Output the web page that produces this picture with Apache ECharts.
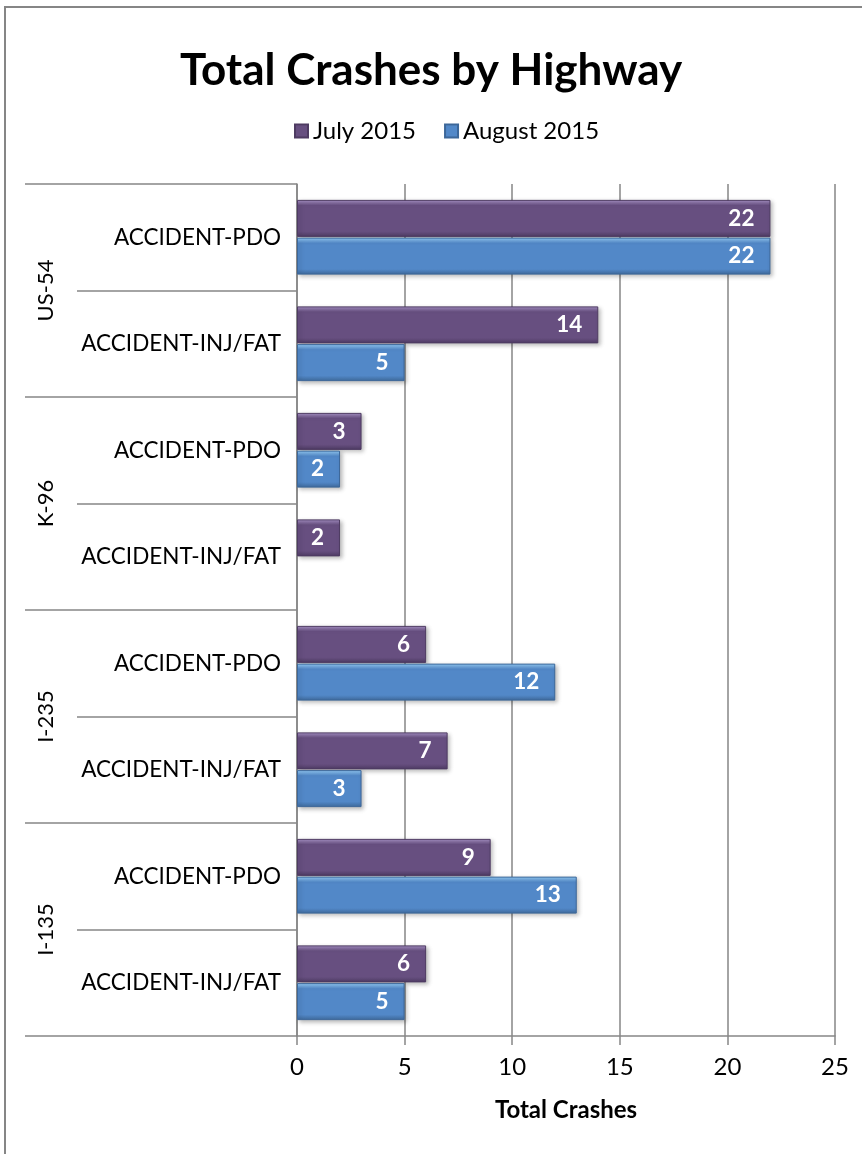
<!DOCTYPE html>
<html>
<head>
<meta charset="utf-8">
<script src="https://cdn.jsdelivr.net/npm/echarts@6/dist/echarts.min.js"></script>
<style>
html,body{margin:0;padding:0;background:#fff;}
#chart{width:862px;height:1154px;}
</style>
</head>
<body>
<div id="chart"></div>
<script>
var categories = ['ACCIDENT-PDO','ACCIDENT-INJ/FAT','ACCIDENT-PDO','ACCIDENT-INJ/FAT','ACCIDENT-PDO','ACCIDENT-INJ/FAT','ACCIDENT-PDO','ACCIDENT-INJ/FAT'];
var highways = ['US-54','K-96','I-235','I-135'];
var july2015 = [22, 14, 3, 2, 6, 7, 9, 6];
var august2015 = [22, 5, 2, null, 12, 3, 13, 5];
var xTicks = [0, 5, 10, 15, 20, 25];

var FONT = 'Lato, "Open Sans", sans-serif';
var chart = echarts.init(document.getElementById('chart'));

function grad(light, main, dark) {
  return new echarts.graphic.LinearGradient(0, 0, 0, 1, [
    {offset: 0, color: light},
    {offset: 0.15, color: main},
    {offset: 0.85, color: main},
    {offset: 1, color: dark}
  ]);
}

var labelCfg = {
  show: true,
  position: 'insideRight',
  distance: 16,
  color: '#fff',
  fontWeight: 'bold',
  fontSize: 22.5,
  fontFamily: FONT,
  formatter: function (p) { return p.value ? p.value : ''; }
};

chart.setOption({
  animation: false,
  backgroundColor: '#fff',
  title: {
    text: 'Total Crashes by Highway',
    left: 'center',
    top: 44,
    textStyle: {fontSize: 44, fontWeight: 'bold', color: '#000', fontFamily: FONT}
  },
  legend: {
    top: 114,
    left: 289,
    itemWidth: 13,
    itemHeight: 13,
    itemGap: 28,
    icon: 'rect',
    textStyle: {fontSize: 24, color: '#000', fontFamily: FONT},
    data: ['July 2015', 'August 2015']
  },
  graphic: [{
    type: 'rect',
    shape: {x: 5, y: 7, width: 1000, height: 1300},
    style: {fill: 'none', stroke: '#868686', lineWidth: 2},
    silent: true,
    z: -1
  }],
  grid: {left: 297, right: 27, top: 184, bottom: 118, containLabel: false},
  xAxis: {
    type: 'value',
    min: xTicks[0],
    max: xTicks[xTicks.length - 1],
    interval: 5,
    name: 'Total Crashes',
    nameLocation: 'middle',
    nameGap: 62,
    nameTextStyle: {fontSize: 24, fontWeight: 'bold', color: '#000', fontFamily: FONT},
    axisLine: {show: true, lineStyle: {color: '#868686', width: 1.5}},
    axisTick: {show: true, length: 9, lineStyle: {color: '#868686', width: 1.5}},
    axisLabel: {fontSize: 24, color: '#000', margin: 19, fontFamily: FONT},
    splitLine: {show: true, lineStyle: {color: '#868686', width: 1.5}}
  },
  yAxis: [{
    type: 'category',
    inverse: true,
    data: categories,
    axisLine: {show: true, lineStyle: {color: '#868686', width: 1.5}},
    axisTick: {show: true, length: 220, lineStyle: {color: '#868686', width: 1.5}},
    axisLabel: {fontSize: 22.5, color: '#000', margin: 16, fontFamily: FONT},
    splitLine: {show: false}
  }, {
    type: 'category',
    inverse: true,
    position: 'left',
    data: highways,
    axisLine: {show: false},
    axisTick: {show: true, length: 272, lineStyle: {color: '#868686', width: 1.5}},
    axisLabel: {fontSize: 22, color: '#000', margin: 240, rotate: 90, fontFamily: FONT},
    splitLine: {show: false}
  }],
  series: [{
    name: 'July 2015',
    type: 'bar',
    data: july2015,
    barWidth: 37,
    barGap: '2%',
    itemStyle: {
      color: grad('#a993c8', '#674f80', '#4f3c64'),
      borderColor: '#4e3b62',
      borderWidth: 1,
      shadowColor: 'rgba(0,0,0,0.25)',
      shadowBlur: 4,
      shadowOffsetX: 2,
      shadowOffsetY: 2
    },
    label: labelCfg
  }, {
    name: 'August 2015',
    type: 'bar',
    data: august2015,
    barWidth: 37,
    barGap: '2%',
    itemStyle: {
      color: grad('#97cffa', '#5288c8', '#3f6a9c'),
      borderColor: '#3c6799',
      borderWidth: 1,
      shadowColor: 'rgba(0,0,0,0.25)',
      shadowBlur: 4,
      shadowOffsetX: 2,
      shadowOffsetY: 2
    },
    label: labelCfg
  }]
});
</script>
</body>
</html>
